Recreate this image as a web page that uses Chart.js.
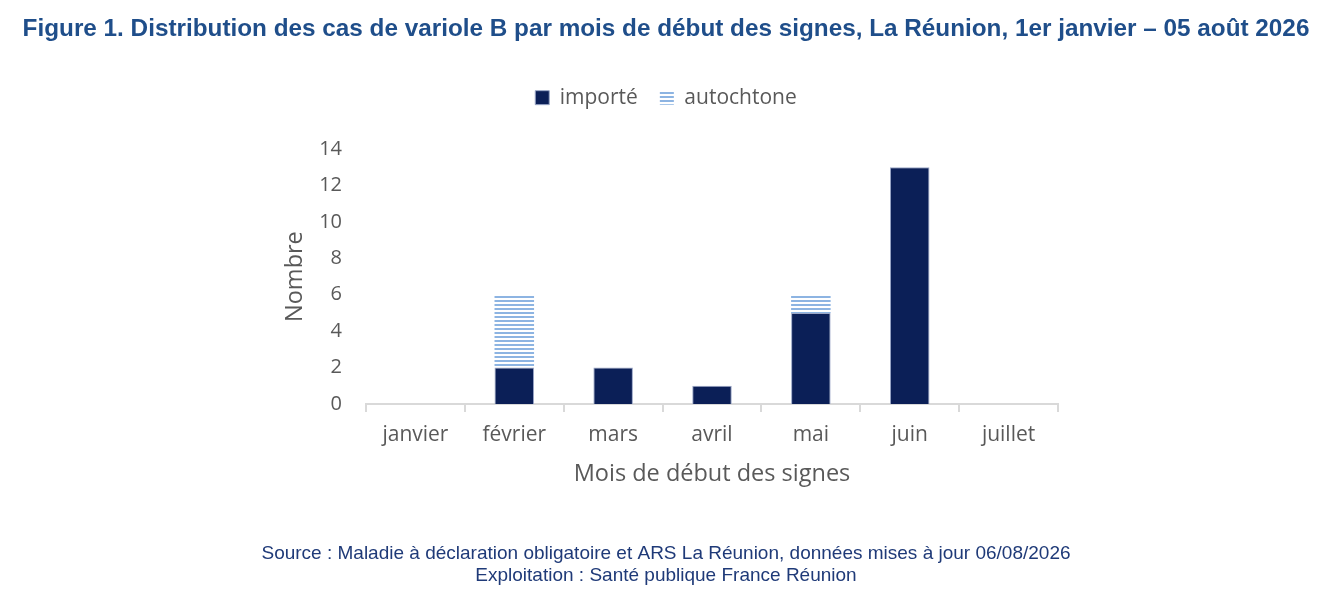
<!DOCTYPE html>
<html>
<head>
<meta charset="utf-8">
<script src="https://cdn.jsdelivr.net/npm/chart.js@4.4.1/dist/chart.umd.min.js"></script>
<style>
html, body { margin: 0; padding: 0; background: #fff; }
#wrap { width: 1332px; height: 610px; }
</style>
</head>
<body>
<div id="wrap"><canvas id="mainChart"></canvas></div>
<script>
// donnees
const mois = ['janvier', 'février', 'mars', 'avril', 'mai', 'juin', 'juillet'];
const importe = [0, 2, 2, 1, 5, 13, 0];
const autochtone = [0, 4, 0, 0, 1, 0, 0];
const yTicks = [0, 2, 4, 6, 8, 10, 12, 14];

const titre = 'Figure 1. Distribution des cas de variole B par mois de début des signes, La Réunion, 1er janvier – 05 août 2026';
const source = [
    'Source : Maladie à déclaration obligatoire et ARS La Réunion, données mises à jour 06/08/2026',
    'Exploitation : Santé publique France Réunion'
];

const gris = '#595959';
const marine = '#0B1F57';

// hachures horizontales pour les cas autochtones
function hachures() {
    const c = document.createElement('canvas');
    c.width = 4;
    c.height = 4;
    const g = c.getContext('2d');
    g.fillStyle = '#ffffff';
    g.fillRect(0, 0, 4, 4);
    g.fillStyle = '#8DB4E2';
    g.fillRect(0, 0, 4, 2);
    return g.createPattern(c, 'repeat');
}

const ctx = document.getElementById('mainChart');

const data = {
    labels: mois,
    datasets: [
        {
            label: 'importé',
            data: importe,
            backgroundColor: marine,
            borderColor: '#9AA6C6',
            borderWidth: 1,
            xAxisID: 'x',
            yAxisID: 'y'
        },
        {
            label: 'autochtone',
            data: autochtone,
            backgroundColor: hachures(),
            borderWidth: 0,
            xAxisID: 'x',
            yAxisID: 'y'
        }
    ]
};

new Chart(ctx, {
    type: 'bar',
    data: data,
    options: {
        responsive: true,
        maintainAspectRatio: false,
        animation: false,
        categoryPercentage: 1,
        barPercentage: 0.4,
        layout: { padding: 0 },
        scales: {
            x: {
                stacked: true,
                afterFit: (scale) => { scale.height = 84; },
                grid: {
                    display: true,
                    drawOnChartArea: false,
                    drawTicks: true,
                    tickLength: 8,
                    color: '#D9D9D9',
                    lineWidth: 2
                },
                border: { display: true, color: '#D9D9D9', width: 2 },
                ticks: { color: gris, font: { family: 'Open Sans', size: 21 }, padding: 10 },
                title: {
                    display: true,
                    text: 'Mois de début des signes',
                    color: gris,
                    font: { family: 'Open Sans', size: 23.5 },
                    padding: { top: 10, bottom: 0 }
                }
            },
            y: {
                stacked: true,
                min: 0,
                max: 14,
                afterBuildTicks: (scale) => {
                    scale.ticks = yTicks.map(v => ({ value: v }));
                },
                afterFit: (scale) => { scale.width = 366; },
                grid: { display: false, drawTicks: false },
                border: { display: false },
                ticks: { color: gris, font: { family: 'Open Sans', size: 20 }, padding: 24 },
                title: {
                    display: true,
                    text: 'Nombre',
                    color: gris,
                    font: { family: 'Open Sans', size: 23.5 },
                    padding: { top: 281, bottom: 0 }
                }
            },
            yR: {
                position: 'right',
                display: true,
                grid: { display: false },
                border: { display: false },
                ticks: { display: false },
                afterFit: (scale) => { scale.width = 274; }
            },
            xT: {
                type: 'category',
                labels: mois,
                position: 'top',
                display: true,
                grid: { display: false },
                border: { display: false },
                ticks: { display: false },
                afterFit: (scale) => { scale.height = 31; }
            }
        },
        plugins: {
            title: {
                display: true,
                text: titre,
                color: '#1F4E8A',
                font: { family: 'Liberation Sans', size: 24.3, weight: 'bold' },
                padding: { top: 15, bottom: 21 }
            },
            legend: {
                position: 'top',
                labels: {
                    boxWidth: 14,
                    boxHeight: 14,
                    padding: 22,
                    color: gris,
                    font: { family: 'Open Sans', size: 21 }
                }
            },
            subtitle: {
                display: true,
                position: 'bottom',
                text: source,
                color: '#1F3A78',
                font: { family: 'Liberation Sans', size: 19, lineHeight: 1.158 },
                padding: { top: 55, bottom: 23 }
            },
            tooltip: { enabled: false }
        }
    }
});
</script>
</body>
</html>
